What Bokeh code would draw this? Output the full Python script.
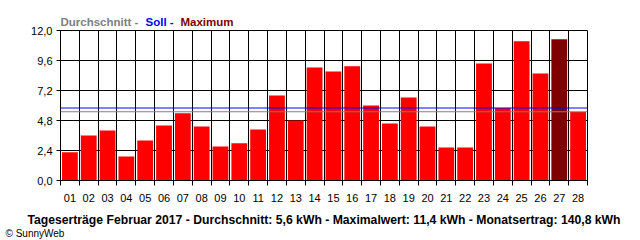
from bokeh.plotting import figure
from bokeh.models import FixedTicker, CustomJSTickFormatter, Label, ColumnDataSource, Span
from bokeh.embed import file_html
from bokeh.resources import INLINE

days = ["01","02","03","04","05","06","07","08","09","10","11","12","13","14",
        "15","16","17","18","19","20","21","22","23","24","25","26","27","28"]
yields = [2.27, 3.6, 4.0, 1.92, 3.2, 4.4, 5.39, 4.32, 2.72, 2.99, 4.08, 6.8, 4.8, 9.04,
          8.72, 9.15, 6.0, 4.56, 6.64, 4.32, 2.64, 2.64, 9.36, 5.81, 11.15, 8.56, 11.3, 5.49]
average_value = 5.5
target_value = 5.8
y_ticks = [0.0, 2.4, 4.8, 7.2, 9.6, 12.0]
title_bottom = "Tageserträge Februar 2017 - Durchschnitt: 5,6 kWh - Maximalwert: 11,4 kWh - Monatsertrag: 140,8 kWh"

FONT = "Liberation Sans"

xs = list(range(1, len(days) + 1))
maxv = max(yields)
colors = ["#800000" if v == maxv else "#FF0000" for v in yields]
src = ColumnDataSource(dict(x=xs, top=yields, color=colors))

p = figure(width=640, height=240, output_backend="svg", toolbar_location=None,
           x_range=(0.5, len(days) + 0.5), y_range=(0, 12),
           min_border_left=60, min_border_right=30, min_border_top=30, min_border_bottom=60)
p.background_fill_color = "white"
p.border_fill_color = "white"
p.outline_line_color = "black"
p.outline_line_width = 1

p.vbar(x="x", top="top", width=0.84, bottom=0, fill_color="color", line_color=None, source=src)

p.add_layout(Span(location=target_value, dimension="width", line_color="#0000FF", line_width=1))
p.add_layout(Span(location=average_value, dimension="width", line_color="#808080", line_width=1))

boundaries = [i + 0.5 for i in range(0, len(days) + 1)]

# x axis
p.xaxis.ticker = FixedTicker(ticks=xs, minor_ticks=boundaries)
p.xaxis.formatter = CustomJSTickFormatter(code="return String(tick).padStart(2,'0');")
p.xaxis.major_tick_out = 0
p.xaxis.major_tick_in = 0
p.xaxis.minor_tick_out = 5
p.xaxis.minor_tick_in = 0
p.xaxis.minor_tick_line_color = "black"
p.xaxis.axis_line_color = "black"
p.xaxis.major_label_standoff = 8
p.xaxis.major_label_text_font = FONT
p.xaxis.major_label_text_font_size = "11px"
p.xaxis.major_label_text_color = "black"
p.xaxis.axis_label = title_bottom
p.xaxis.axis_label_standoff = 8
p.xaxis.axis_label_text_font = FONT
p.xaxis.axis_label_text_font_size = "12.2px"
p.xaxis.axis_label_text_font_style = "bold"
p.xaxis.axis_label_text_color = "black"

# y axis
p.yaxis.ticker = FixedTicker(ticks=y_ticks)
p.yaxis.formatter = CustomJSTickFormatter(code="return tick.toFixed(1).replace('.', ',');")
p.yaxis.major_tick_out = 4
p.yaxis.major_tick_in = 0
p.yaxis.minor_tick_line_color = None
p.yaxis.axis_line_color = "black"
p.yaxis.major_tick_line_color = "black"
p.yaxis.major_label_standoff = 4
p.yaxis.major_label_text_font = FONT
p.yaxis.major_label_text_font_size = "11px"
p.yaxis.major_label_text_color = "black"

# grids
p.xgrid.ticker = FixedTicker(ticks=boundaries)
p.xgrid.grid_line_color = "black"
p.xgrid.grid_line_width = 1
p.ygrid.ticker = FixedTicker(ticks=y_ticks)
p.ygrid.grid_line_color = "black"
p.ygrid.grid_line_width = 1

def lab(txt, col, x, y, size="11.5px", style="bold"):
    return Label(x=x, y=y, x_units="screen", y_units="screen", text=txt, text_color=col,
                 text_font=FONT, text_font_size=size, text_font_style=style,
                 text_baseline="alphabetic")

# top legend-like title, split across side panels (positions relative to each panel)
p.add_layout(lab("Durchschnitt -", "#808080", 0, 9), "above")
p.add_layout(lab("Soll -", "#0000FF", 85, -3), "above")
p.add_layout(lab("Maximum", "#800000", -407, 159), "right")

p.add_layout(lab("© SunnyWeb", "black", -55, 7, size="10px", style="normal"), "below")

open("out.html", "w").write(file_html(p, INLINE))
